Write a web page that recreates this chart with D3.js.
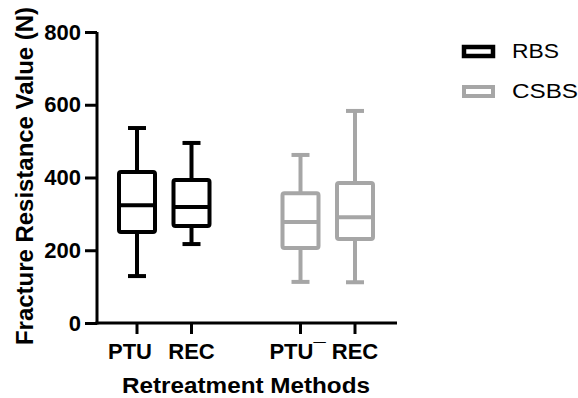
<!DOCTYPE html>
<html>
<head>
<meta charset="utf-8">
<script src="https://cdn.jsdelivr.net/npm/d3@7"></script>
<style>
  body { margin: 0; background: #fff; }
  text { font-family: "Liberation Sans", Arial, sans-serif; }
</style>
</head>
<body>
<svg id="chart" width="578" height="398"></svg>
<script>
// data
var categories = ["PTU", "REC", "PTU\u00AF", "REC"];
var groups = ["RBS", "RBS", "CSBS", "CSBS"];
var mins = [129, 217, 113, 112];
var q1s = [250, 267, 206, 231];
var medians = [324, 319, 278, 291];
var q3s = [415, 393, 357, 385];
var maxs = [536, 495, 462, 583];
var yTicks = [0, 200, 400, 600, 800];
var seriesNames = ["RBS", "CSBS"];
var seriesColors = ["#000000", "#a6a6a6"];

var svg = d3.select("#chart");

var color = d3.scaleOrdinal().domain(seriesNames).range(seriesColors);

var y = d3.scaleLinear().domain([0, 800]).range([323, 32]);
// positions with a gap between the two groups
var x = d3.scalePoint().domain(["0", "1", "gap", "2", "3"]).range([137, 355]);
var xPos = function(i) { return x(String(i)); };

var boxW = 36, capW = 18, sw = 4;
// labels are not quite centred under their ticks in the original
var labelShift = [-7, 0, -3, 0];

// axes
var yAxis = svg.append("g")
  .attr("transform", "translate(97,0)")
  .call(d3.axisLeft(y).tickValues(yTicks).tickSize(12).tickPadding(4));
yAxis.select(".domain").attr("stroke-width", 3).attr("d", "M0,324.5V32");
yAxis.selectAll(".tick line").attr("stroke-width", 3);
yAxis.selectAll(".tick text")
  .style("font-size", "22px").style("font-weight", "bold").attr("fill", "#000");

var xAxis = svg.append("g").attr("transform", "translate(0,323)");
xAxis.append("line")
  .attr("x1", 95.5).attr("x2", 397)
  .attr("stroke", "#000").attr("stroke-width", 3);
categories.forEach(function(c, i) {
  xAxis.append("line")
    .attr("x1", xPos(i)).attr("x2", xPos(i))
    .attr("y1", 0).attr("y2", 11)
    .attr("stroke", "#000").attr("stroke-width", 3);
  xAxis.append("text")
    .attr("x", xPos(i) + labelShift[i]).attr("y", 36)
    .attr("text-anchor", "middle")
    .style("font-size", "22px").style("font-weight", "bold")
    .text(c);
});

// axis titles
svg.append("text")
  .attr("transform", "translate(33,176) rotate(-90)")
  .attr("text-anchor", "middle")
  .attr("textLength", 338).attr("lengthAdjust", "spacingAndGlyphs")
  .style("font-size", "24px").style("font-weight", "bold")
  .text("Fracture Resistance Value (N)");
svg.append("text")
  .attr("x", 246).attr("y", 393)
  .attr("text-anchor", "middle")
  .attr("textLength", 248).attr("lengthAdjust", "spacingAndGlyphs")
  .style("font-size", "22px").style("font-weight", "bold")
  .text("Retreatment Methods");

// boxes
categories.forEach(function(c, i) {
  var cx = xPos(i);
  var col = color(groups[i]);
  var g = svg.append("g").attr("stroke", col).attr("stroke-width", sw).attr("fill", "none");
  g.append("line").attr("x1", cx).attr("x2", cx).attr("y1", y(maxs[i])).attr("y2", y(q3s[i]));
  g.append("line").attr("x1", cx).attr("x2", cx).attr("y1", y(q1s[i])).attr("y2", y(mins[i]));
  g.append("line").attr("x1", cx - capW / 2).attr("x2", cx + capW / 2).attr("y1", y(maxs[i])).attr("y2", y(maxs[i]));
  g.append("line").attr("x1", cx - capW / 2).attr("x2", cx + capW / 2).attr("y1", y(mins[i])).attr("y2", y(mins[i]));
  g.append("rect")
    .attr("x", cx - boxW / 2).attr("y", y(q3s[i]))
    .attr("width", boxW).attr("height", y(q1s[i]) - y(q3s[i]))
    .attr("rx", 2);
  g.append("line").attr("x1", cx - boxW / 2).attr("x2", cx + boxW / 2).attr("y1", y(medians[i])).attr("y2", y(medians[i]));
});

// legend
seriesNames.forEach(function(s, i) {
  var ly = 47 + i * 40;
  svg.append("rect")
    .attr("x", 464).attr("y", ly)
    .attr("width", 29).attr("height", 9)
    .attr("fill", "none").attr("stroke", color(s)).attr("stroke-width", i == 0 ? 4.5 : 4);
  svg.append("text")
    .attr("x", 512).attr("y", ly + 11)
    .attr("textLength", i == 0 ? 47 : 66).attr("lengthAdjust", "spacingAndGlyphs")
    .style("font-size", "20px")
    .text(s);
});
</script>
</body>
</html>
